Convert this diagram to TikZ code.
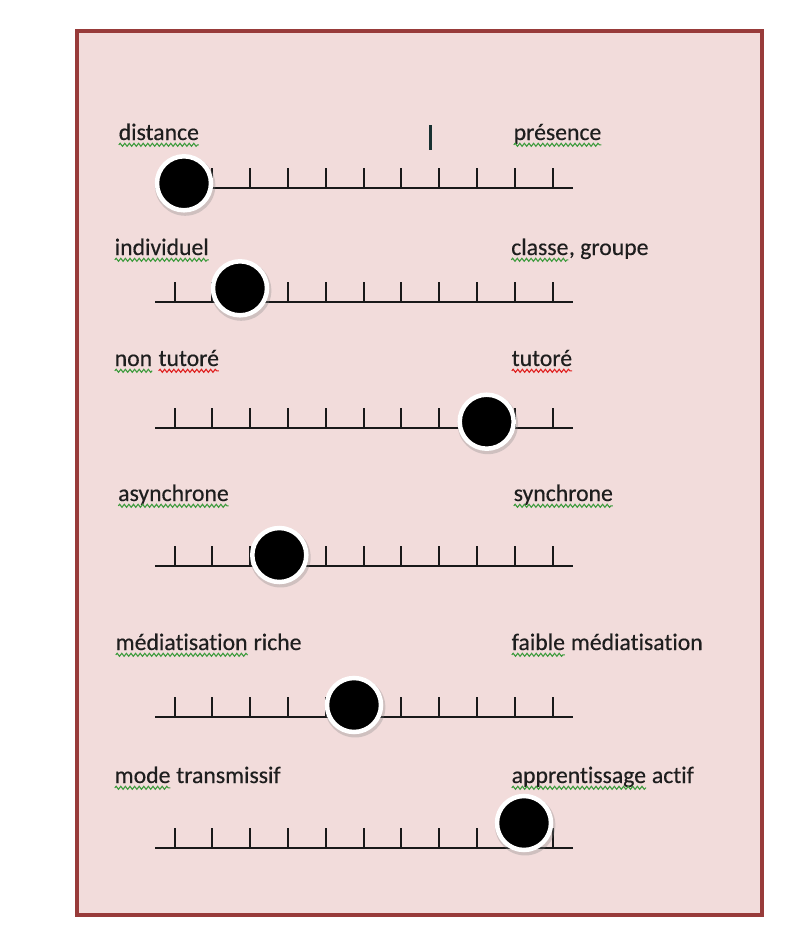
\documentclass[tikz,border=0pt]{standalone}
\usepackage{fontspec}
\setmainfont{Carlito}[RawFeature={-liga;-clig;-calt;-dlig},FakeBold=0.4]
\usetikzlibrary{decorations.pathmorphing,shadows}
\definecolor{boxfill}{HTML}{F2DCDB}
\definecolor{boxline}{HTML}{983B3A}
\definecolor{txt}{HTML}{1E1E1E}
\definecolor{spellgreen}{HTML}{3E9B3E}
\definecolor{spellred}{HTML}{E02020}
\newcommand{\wavy}[2]{\tikz[baseline=(w.base)]{\node[inner sep=0pt,outer sep=0pt] (w) {#2};
 \draw[#1,line width=1.1pt,decorate,decoration={snake,amplitude=1.5pt,segment length=4.6pt}] ([yshift=-4.8pt]w.base west) -- ([yshift=-4.8pt]w.base east);}}
\begin{document}
\begin{tikzpicture}[x=1pt,y=-1pt,
 lbl/.style={anchor=base west,inner sep=0pt,text=txt,font=\fontsize{23.7}{28}\selectfont},
 ball/.style={circle,fill=black,draw=white,line width=4.5pt,minimum size=54pt,inner sep=0pt,
   drop shadow={shadow xshift=1pt,shadow yshift=-2pt,shadow scale=1.12,opacity=0.3}},
 scaleline/.style={line width=2pt,draw=black!90}]
 \useasboundingbox (0,0) rectangle (804,946);
 \draw[boxline,fill=boxfill,line width=4pt] (77,31) rectangle (762,915);
 \foreach \y in {188,301.7,428.3,565.7,716.7,848.3}{
   \draw[scaleline] (155,\y)--(572.7,\y);
   \foreach \k in {0,...,10}
     \draw[scaleline] (174.5+37.8*\k,\y)--(174.5+37.8*\k,\y-20);
 }
 \draw[line width=3pt,color=txt!80!teal] (430,125)--(430,150);
 \node[lbl] (dist) at (118,140) {\wavy{spellgreen}{distance}};
 \node[lbl] (pres) at (513,140) {\wavy{spellgreen}{présence}};
 \node[lbl] (indiv) at (114,255) {\wavy{spellgreen}{individuel}};
 \node[lbl] (classe) at (510.5,255) {\wavy{spellgreen}{classe}, groupe};
 \node[lbl] (nontut) at (114,366) {\wavy{spellgreen}{non} \wavy{spellred}{tutoré}};
 \node[lbl] (tut) at (511,366) {\wavy{spellred}{tutoré}};
 \node[lbl] (async) at (117.5,501) {\wavy{spellgreen}{asynchrone}};
 \node[lbl] (sync) at (513,501) {\wavy{spellgreen}{synchrone}};
 \node[lbl] (medr) at (115,650) {\wavy{spellgreen}{médiatisation} riche};
 \node[lbl] (faible) at (511,650) {\wavy{spellgreen}{faible} médiatisation};
 \node[lbl] (mode) at (114,783) {\wavy{spellgreen}{mode} transmissif};
 \node[lbl] (appr) at (511,783) {\wavy{spellgreen}{apprentissage} actif};
 \foreach \x/\y [count=\i] in {184/183.3,240/288.3,486.7/421.7,279.3/555,354/705,524/823}
   \node[ball] (b\i) at (\x,\y) {};
\end{tikzpicture}
\end{document}
